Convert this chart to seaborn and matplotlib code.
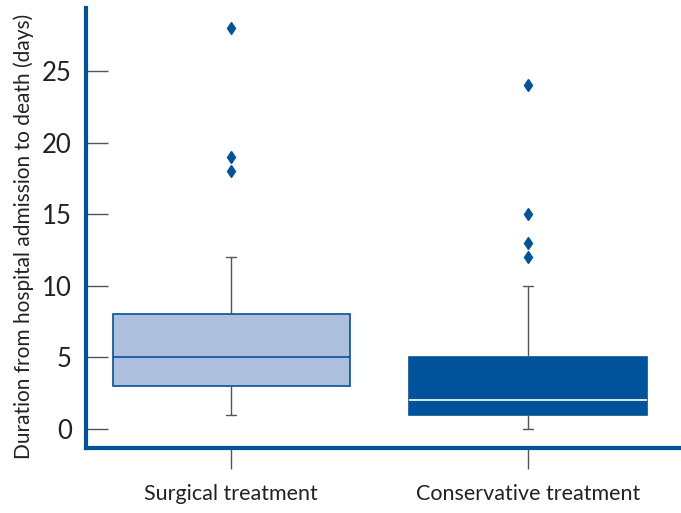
import pandas as pd
import matplotlib
matplotlib.use("Agg")
import matplotlib.pyplot as plt
import seaborn as sns

# values (reconstructed so that the box stats match)
surgical_days = [1, 2, 2, 3, 3, 3, 4, 4, 5, 5, 5, 6, 6, 7, 8, 8, 10, 12, 18, 19, 28]
conservative_days = [0, 0, 1, 1, 1, 1, 1, 2, 2, 2, 2, 3, 3, 4, 5, 5, 10, 12, 13, 15, 24]
groups = ["Surgical treatment", "Conservative treatment"]
y_ticks = [0, 5, 10, 15, 20, 25]

DARK = "#00539a"
LIGHT = "#aebfdd"
GREY = "#555555"

df = pd.DataFrame({
    "group": [groups[0]] * len(surgical_days) + [groups[1]] * len(conservative_days),
    "days": surgical_days + conservative_days,
})

sns.set_style("white")
plt.rcParams["font.family"] = ["Lato", "DejaVu Sans"]

fig = plt.figure(figsize=(6.81, 5.13), dpi=100)
ax = fig.add_axes([0.126, 0.127, 0.872, 0.857])

sns.boxplot(
    data=df, x="group", y="days", hue="group", order=groups, hue_order=groups,
    palette={groups[0]: LIGHT, groups[1]: DARK}, legend=False, width=0.8,
    dodge=False, saturation=1, ax=ax,
    boxprops=dict(edgecolor=DARK, linewidth=1.2),
    whiskerprops=dict(color=GREY, linewidth=1),
    capprops=dict(color=GREY, linewidth=1),
    medianprops=dict(color=DARK, linewidth=1.2),
    flierprops=dict(marker="d", markersize=6.5, markerfacecolor=DARK,
                    markeredgecolor=DARK),
    capwidths=0.035,
)

# white median on the dark box
ax.containers[1].medians[0].set_color("white")

ax.set_xlim(-0.49, 1.51)
ax.set_ylim(-1.33, 29.4)
ax.set_yticks(y_ticks)
ax.set_xlabel("")
ax.set_ylabel("Duration from hospital admission to death (days)", fontsize=15,
              labelpad=6, color="#222222", y=0.48)

for side in ["top", "right"]:
    ax.spines[side].set_visible(False)
for side in ["left", "bottom"]:
    ax.spines[side].set_color(DARK)
    ax.spines[side].set_linewidth(3)

ax.tick_params(axis="y", direction="in", length=16, color=GREY, width=1,
               labelsize=18.5, pad=10, left=True, labelcolor="#222222")
ax.tick_params(axis="x", direction="out", length=15, color=GREY, width=1,
               labelsize=15.5, pad=11, bottom=True, labelcolor="#222222")

fig.savefig("out.png", dpi=100)
